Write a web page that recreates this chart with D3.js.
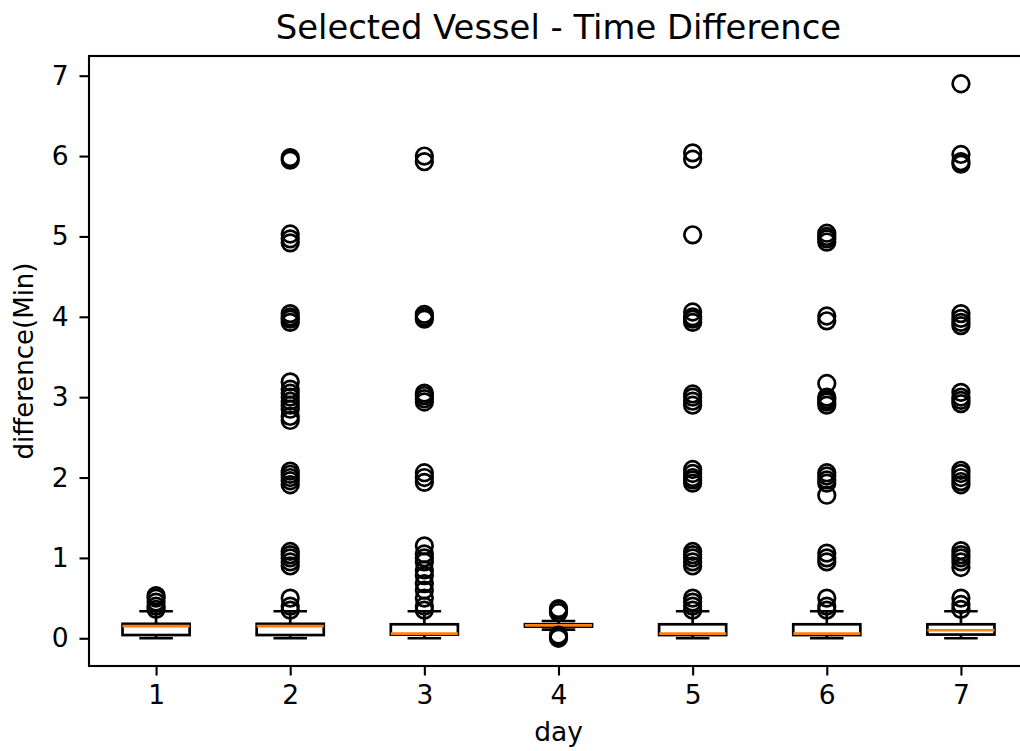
<!DOCTYPE html>
<html>
<head>
<meta charset="utf-8">
<script src="https://cdn.jsdelivr.net/npm/d3@7"></script>
<style>
  html, body { margin: 0; padding: 0; background: #fff; overflow: hidden; }
  svg { display: block; font-family: "DejaVu Sans", sans-serif; }
</style>
</head>
<body>
<svg id="chart" width="1020" height="751"></svg>
<script>
// Daily time-difference distributions (minutes), summarised as box plots
const days = [1, 2, 3, 4, 5, 6, 7];
const q1Values     = [0.04, 0.04, 0.046, 0.145, 0.04, 0.04, 0.046];
const medianValues = [0.15, 0.15, 0.058, 0.16, 0.058, 0.058, 0.10];
const q3Values     = [0.18, 0.18, 0.174, 0.175, 0.174, 0.174, 0.174];
const whiskerLow   = [0, 0, 0, 0.108, 0, 0, 0];
const whiskerHigh  = [0.336, 0.336, 0.336, 0.215, 0.336, 0.336, 0.336];

const outliersDay1 = [0.36, 0.40, 0.45, 0.50, 0.53];
const outliersDay2 = [0.35, 0.40, 0.50, 0.90, 0.95, 1.00, 1.04, 1.08, 1.91, 1.96, 2.00, 2.04, 2.08,
  2.71, 2.76, 2.85, 2.90, 2.95, 3.00, 3.05, 3.10, 3.19, 3.93, 3.97, 4.00, 4.04, 4.92, 4.97, 5.03, 5.95, 5.98];
const outliersDay3 = [0.35, 0.40, 0.50, 0.60, 0.68, 0.78, 0.85, 0.95, 1.00, 1.05, 1.15, 1.94, 2.00, 2.06,
  2.94, 2.98, 3.02, 3.05, 3.97, 4.00, 4.03, 5.93, 6.00];
const outliersDay4 = [0.00, 0.02, 0.04, 0.32, 0.35, 0.37];
const outliersDay5 = [0.35, 0.40, 0.45, 0.50, 0.90, 0.95, 1.00, 1.04, 1.08, 1.93, 1.97, 2.00, 2.05, 2.10,
  2.90, 2.95, 3.00, 3.04, 3.93, 3.97, 4.00, 4.06, 5.02, 5.96, 6.04];
const outliersDay6 = [0.35, 0.40, 0.50, 0.95, 1.00, 1.06, 1.78, 1.93, 1.97, 2.02, 2.06, 2.90, 2.94, 2.97,
  3.00, 3.17, 3.95, 4.01, 4.93, 4.97, 5.00, 5.04];
const outliersDay7 = [0.36, 0.42, 0.50, 0.88, 0.95, 1.00, 1.04, 1.09, 1.91, 1.95, 2.00, 2.05, 2.09,
  2.92, 2.96, 3.00, 3.06, 3.89, 3.93, 3.98, 4.04, 5.90, 5.93, 6.02, 6.90];
const outliers = [outliersDay1, outliersDay2, outliersDay3, outliersDay4, outliersDay5, outliersDay6, outliersDay7];

const xTicks = [1, 2, 3, 4, 5, 6, 7];
const yTicks = [0, 1, 2, 3, 4, 5, 6, 7];

const svg = d3.select("#chart");
const plotLeft = 89, plotRight = 1028, plotTop = 56, plotBottom = 666;

const x = d3.scaleLinear().domain([0.5, 7.5]).range([plotLeft, plotRight]);
const y = d3.scaleLinear().domain([-0.345, 7.245]).range([plotBottom, plotTop]);

const lw = 2.7;
const boxHalf = (x(1.25) - x(1));
const capHalf = boxHalf / 2;

const boxes = days.map((d, i) => ({
  day: d, q1: q1Values[i], med: medianValues[i], q3: q3Values[i],
  lo: whiskerLow[i], hi: whiskerHigh[i], out: outliers[i]
}));

const g = svg.append("g");

boxes.forEach(b => {
  const cx = x(b.day);
  const grp = g.append("g");
  // whiskers
  grp.append("line").attr("x1", cx).attr("x2", cx).attr("y1", y(b.q1)).attr("y2", y(b.lo))
    .attr("stroke", "#000").attr("stroke-width", lw);
  grp.append("line").attr("x1", cx).attr("x2", cx).attr("y1", y(b.q3)).attr("y2", y(b.hi))
    .attr("stroke", "#000").attr("stroke-width", lw);
  // caps
  [b.lo, b.hi].forEach(v => {
    grp.append("line").attr("x1", cx - capHalf).attr("x2", cx + capHalf)
      .attr("y1", y(v)).attr("y2", y(v))
      .attr("stroke", "#000").attr("stroke-width", lw);
  });
  // box
  grp.append("rect").attr("x", cx - boxHalf).attr("width", 2 * boxHalf)
    .attr("y", y(b.q3)).attr("height", y(b.q1) - y(b.q3))
    .attr("fill", "none").attr("stroke", "#000").attr("stroke-width", lw);
  // median
  grp.append("line").attr("x1", cx - boxHalf).attr("x2", cx + boxHalf)
    .attr("y1", y(b.med)).attr("y2", y(b.med))
    .attr("stroke", "#ff7f0e").attr("stroke-width", lw);
  // fliers
  grp.selectAll("circle").data(b.out).join("circle")
    .attr("cx", cx).attr("cy", v => y(v)).attr("r", 8.3)
    .attr("fill", "none").attr("stroke", "#000").attr("stroke-width", lw);
});

// axes
const xAxis = d3.axisBottom(x).tickValues(xTicks).tickSize(9.5).tickPadding(10).tickFormat(d3.format("d"));
const yAxis = d3.axisLeft(y).tickValues(yTicks).tickSize(9.5).tickPadding(11).tickFormat(d3.format("d"));

const gx = svg.append("g").attr("transform", `translate(0,${plotBottom})`).call(xAxis);
const gy = svg.append("g").attr("transform", `translate(${plotLeft},0)`).call(yAxis);
[gx, gy].forEach(ax => {
  ax.select(".domain").remove();
  ax.selectAll(".tick line").attr("stroke", "#000").attr("stroke-width", 2.1);
  ax.selectAll(".tick text").attr("fill", "#000").attr("font-size", 26.5)
    .attr("font-family", "DejaVu Sans");
});

// frame
svg.append("rect").attr("x", plotLeft).attr("y", plotTop)
  .attr("width", plotRight - plotLeft).attr("height", plotBottom - plotTop)
  .attr("fill", "none").attr("stroke", "#000").attr("stroke-width", 2.1);

// title and labels
svg.append("text").attr("x", (plotLeft + plotRight) / 2).attr("y", 39)
  .attr("text-anchor", "middle").attr("font-size", 33.8).attr("fill", "#000")
  .text("Selected Vessel - Time Difference");

svg.append("text").attr("x", (plotLeft + plotRight) / 2).attr("y", 741)
  .attr("text-anchor", "middle").attr("font-size", 26.5).attr("fill", "#000")
  .text("day");

svg.append("text")
  .attr("transform", `translate(33,${(plotTop + plotBottom) / 2}) rotate(-90)`)
  .attr("text-anchor", "middle").attr("font-size", 26).attr("fill", "#000")
  .text("difference(Min)");
</script>
</body>
</html>
